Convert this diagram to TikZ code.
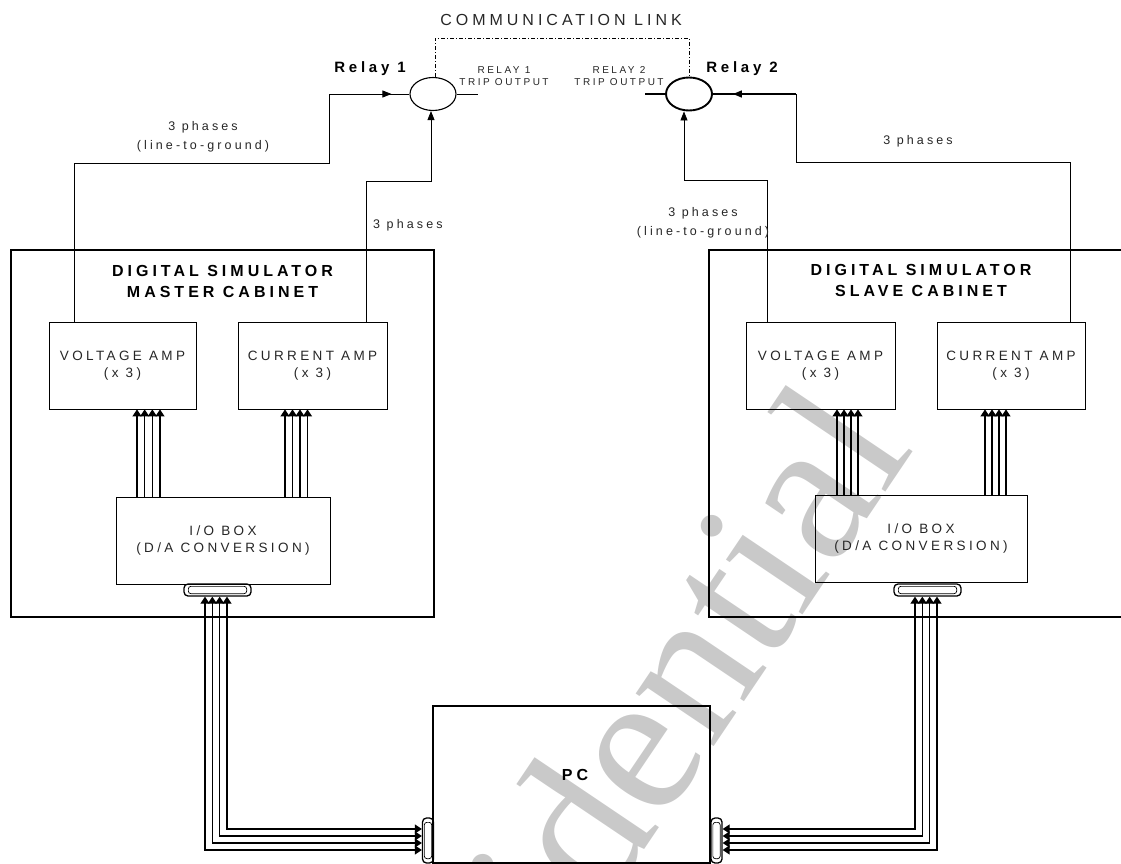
\documentclass[tikz,border=0pt]{standalone}
\usepackage{fontspec}
\setmainfont{Liberation Sans}
\newfontfamily\lab[LetterSpace=25]{Liberation Sans}
\newfontfamily\wmfont{Liberation Serif}
\usetikzlibrary{arrows.meta,decorations.markings,shapes.geometric}
\begin{document}
\begin{tikzpicture}[x=1pt,y=-1pt,
  box/.style={draw, line width=0.8pt, inner sep=0pt, align=center, text=black!85,
    font=\lab\fontsize{13.5}{17}\selectfont},
  cabinet/.style={draw, line width=2.6pt, inner sep=0pt},
  relay/.style={draw, ellipse, inner sep=0pt, minimum width=46pt, minimum height=33pt},
  wire/.style={line width=0.8pt},
  thickwire/.style={line width=1.8pt},
  bus/.style={line width=1.1pt},
  busarrow/.style={-{Triangle[width=9pt,length=7pt]}},
  busboth/.style={{Triangle[width=9pt,length=7pt]}-{Triangle[width=9pt,length=7pt]}},
  tiparrow/.style={-{Triangle[width=7pt,length=9pt]}},
  midarrow/.style={postaction={decorate}, decoration={markings,
    mark=at position #1 with {\arrow{Triangle[width=7pt,length=9pt]}}}},
  lbl/.style={font=\lab\fontsize{12.5}{19.5}\selectfont, align=center, text=black!85, inner sep=0pt},
  small/.style={font=\lab\fontsize{10}{12}\selectfont, align=center, text=black!85, inner sep=0pt},
  title/.style={font=\lab\bfseries\fontsize{16}{21}\selectfont, align=center, inner sep=0pt},
  relaylbl/.style={font=\lab\bfseries\fontsize{15}{18}\selectfont, inner sep=0pt},
  commlbl/.style={font=\lab\fontsize{16}{18}\selectfont, text=black!85, inner sep=0pt},
  conn/.style={draw, rounded corners=4pt, line width=1.3pt, inner sep=0pt},
  conninner/.style={line width=0.7pt, rounded corners=2.5pt},
  link/.style={line width=0.8pt, dash pattern=on 4pt off 2pt on 1pt off 2pt}
]
\useasboundingbox (0,0) rectangle (1121,864);

% watermark
\begin{scope}
\clip (0,0) rectangle (1121,864);
\node[font=\wmfont\fontsize{205}{205}\selectfont, text=black!21, rotate=56,
  anchor=base west, inner sep=0pt] (wm) at (342,1298) {Confidential};
\end{scope}

% cabinets
\node[cabinet, minimum width=423pt, minimum height=367pt] (cab1) at (222.5,433.5) {};
\node[cabinet, minimum width=426pt, minimum height=367pt] (cab2) at (922,433.5) {};
\node[title] (tt1) at (222.5,281) {DIGITAL SIMULATOR\\MASTER CABINET};
\node[title] (tt2) at (921,280) {DIGITAL SIMULATOR\\SLAVE CABINET};

% amps and I/O boxes
\node[box, minimum width=147pt, minimum height=87pt] (va1) at (122.5,365.5) {VOLTAGE AMP\\(x 3)};
\node[box, minimum width=149pt, minimum height=87pt] (ca1) at (312.5,365.5) {CURRENT AMP\\(x 3)};
\node[box, minimum width=214pt, minimum height=87pt] (io1) at (223,540.5) {I/O BOX\\(D/A CONVERSION)};
\node[box, minimum width=149pt, minimum height=87pt] (va2) at (820.5,365.5) {VOLTAGE AMP\\(x 3)};
\node[box, minimum width=148pt, minimum height=87pt] (ca2) at (1011,365.5) {CURRENT AMP\\(x 3)};
\node[box, minimum width=212pt, minimum height=87pt] (io2) at (921,538.5) {I/O BOX\\(D/A CONVERSION)};

% PC
\node[cabinet, minimum width=277pt, minimum height=157pt] (pc) at (571.5,784.5) {};
\node[title] (pct) at (575,775) {PC};

% connectors
\node[conn, minimum width=67pt, minimum height=12pt] (c1) at (217.5,590) {};
\draw[conninner] ([shift={(5,3)}]c1.north west) rectangle ([shift={(-5,-3)}]c1.south east);
\node[conn, minimum width=67pt, minimum height=12pt] (c2) at (927.5,590) {};
\draw[conninner] ([shift={(5,3)}]c2.north west) rectangle ([shift={(-5,-3)}]c2.south east);
\node[conn, minimum width=11pt, minimum height=45pt] (p1) at (428,840.5) {};
\draw[conninner] ([shift={(2.5,5)}]p1.north west) rectangle ([shift={(-2.5,-5)}]p1.south east);
\node[conn, minimum width=11pt, minimum height=45pt] (p2) at (716.5,840.5) {};
\draw[conninner] ([shift={(2.5,5)}]p2.north west) rectangle ([shift={(-2.5,-5)}]p2.south east);

% bundles amp <- I/O
\foreach \x in {137,144.7,152.3,160}{\coordinate (t) at (\x,0);
  \draw[bus,busarrow] (io1.north -| t) -- (va1.south -| t);}
\foreach \x in {285,292.5,300,307.5}{\coordinate (t) at (\x,0);
  \draw[bus,busarrow] (io1.north -| t) -- (ca1.south -| t);}
\foreach \x in {837,844,851,858}{\coordinate (t) at (\x,0);
  \draw[bus,busarrow] (io2.north -| t) -- (va2.south -| t);}
\foreach \x in {985,992,999,1006}{\coordinate (t) at (\x,0);
  \draw[bus,busarrow] (io2.north -| t) -- (ca2.south -| t);}

% bundles connector <-> PC
\foreach \i in {0,1,2,3}{\coordinate (t) at ({205+7.33*\i},{850-7*\i});
  \draw[bus,busboth] (c1.south -| t) |- (p1.west |- t);}
\foreach \i in {0,1,2,3}{\coordinate (t) at ({915+7.33*\i},{829+7*\i});
  \draw[bus,busboth] (c2.south -| t) |- (p2.east |- t);}

% relays
\node[relay, line width=1.1pt] (r1) at (433,94) {};
\node[relay, line width=1.9pt] (r2) at (689,94) {};
\node[relaylbl] (rl1) at (370,69) {Relay 1};
\node[relaylbl] (rl2) at (742,69) {Relay 2};
\node[small] (rt1) at (504,76) {RELAY 1\\TRIP OUTPUT};
\node[small] (rt2) at (619,76) {RELAY 2\\TRIP OUTPUT};
\node[commlbl] (cl) at (561,20) {COMMUNICATION LINK};

% communication link
\draw[link] ([xshift=2pt]r1.north) -- ++(0,-39) -| (r2.north);

% trip outputs
\coordinate (t1) at (478,94);
\draw[wire] (r1.east) -- (t1);
\coordinate (t2) at (645,94);
\draw[thickwire] (r2.west) -- (t2);

% master wiring
\coordinate (x74) at (74,0);
\coordinate (b1) at (329,163);
\draw[wire, midarrow=-18pt] (va1.north -| x74) |- (b1) |- (r1.west);
\coordinate (x366) at (366,0);
\coordinate (b2) at (431,181);
\draw[wire, tiparrow] (ca1.north -| x366) |- (b2) -- (b2 |- r1.south);

% slave wiring
\coordinate (x767) at (767,0);
\coordinate (b3) at (684,180);
\draw[wire, tiparrow] (va2.north -| x767) |- (b3) -- (b3 |- r2.south);
\coordinate (x1070) at (1070,0);
\coordinate (b4) at (796,162);
\draw[wire] (ca2.north -| x1070) |- (b4) -- (b4 |- r2.east);
\draw[line width=1.5pt, midarrow=-20pt] (b4 |- r2.east) -- (r2.east);

% labels
\node[lbl] (l1) at (203,137) {3 phases\\(line-to-ground)};
\node[lbl, anchor=west] (l2) at (373,225) {3 phases};
\node[lbl] (l3) at (703,223) {3 phases\\(line-to-ground)};
\node[lbl] (l4) at (918,141) {3 phases};
\end{tikzpicture}
\end{document}
